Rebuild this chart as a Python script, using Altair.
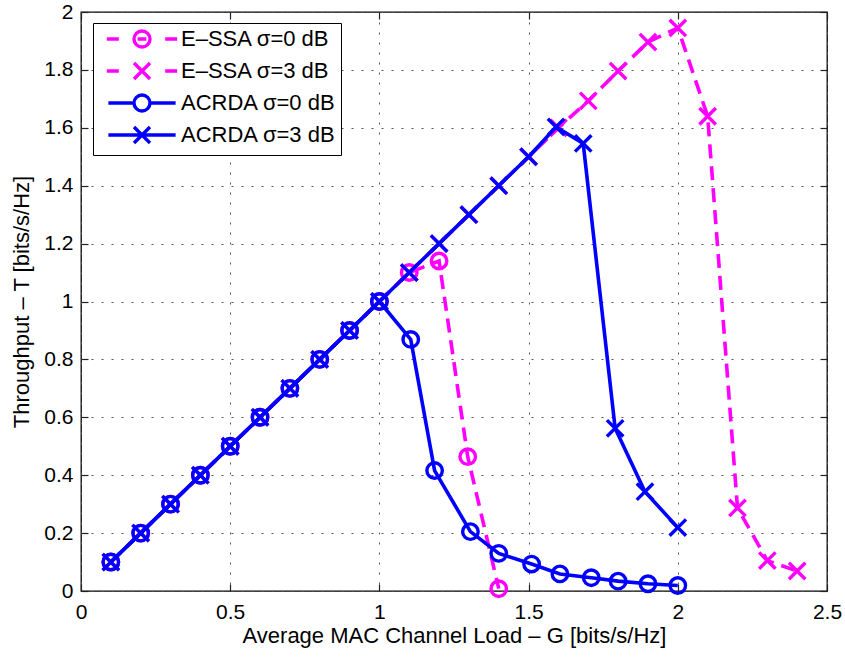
import altair as alt
import pandas as pd

# ---------------- data ----------------
essa0_G = [0.1, 0.2, 0.3, 0.4, 0.5, 0.6, 0.7, 0.8, 0.9, 1.0, 1.1, 1.2, 1.296, 1.4]
essa0_T = [0.1, 0.2, 0.3, 0.4, 0.5, 0.6, 0.7, 0.8, 0.9, 1.0, 1.1, 1.14, 0.464, 0.008]

essa3_G = [0.1, 0.2, 0.3, 0.4, 0.5, 0.6, 0.7, 0.8, 0.9, 1.0, 1.1, 1.2, 1.3, 1.4, 1.5,
           1.6, 1.7, 1.8, 1.9, 2.0, 2.1, 2.2, 2.3, 2.4]
essa3_T = [0.1, 0.2, 0.3, 0.4, 0.5, 0.6, 0.7, 0.8, 0.9, 1.0, 1.1, 1.2, 1.3, 1.4, 1.5,
           1.6, 1.693, 1.796, 1.896, 1.945, 1.64, 0.287, 0.105, 0.069]

acrda0_G = [0.1, 0.2, 0.3, 0.4, 0.5, 0.6, 0.7, 0.8, 0.9, 1.0, 1.105, 1.185, 1.305, 1.4,
            1.51, 1.605, 1.71, 1.8, 1.9, 2.0]
acrda0_T = [0.1, 0.2, 0.3, 0.4, 0.5, 0.6, 0.7, 0.8, 0.9, 1.0, 0.869, 0.416, 0.205, 0.13,
            0.093, 0.059, 0.046, 0.034, 0.025, 0.019]

acrda3_G = [0.1, 0.2, 0.3, 0.4, 0.5, 0.6, 0.7, 0.8, 0.9, 1.0, 1.1, 1.2, 1.3, 1.4, 1.5,
            1.592, 1.683, 1.79, 1.89, 2.0]
acrda3_T = [0.1, 0.2, 0.3, 0.4, 0.5, 0.6, 0.7, 0.8, 0.9, 1.0, 1.1, 1.2, 1.3, 1.4, 1.5,
            1.603, 1.546, 0.562, 0.343, 0.219]

series_names = ["E–SSA σ=0 dB", "E–SSA σ=3 dB", "ACRDA σ=0 dB", "ACRDA σ=3 dB"]
x_ticks = [0, 0.5, 1, 1.5, 2, 2.5]
y_ticks = [0, 0.2, 0.4, 0.6, 0.8, 1.0, 1.2, 1.4, 1.6, 1.8, 2.0]

# ---------------- styling ----------------
FONT = "Liberation Sans"
MAGENTA = "#ff00ff"
BLUE = "#0000ff"
CIRCLE = "circle"
XMARK = "M-1,-1L1,1M-1,1L1,-1"

leg_paths = [
    "M-4.4,0L-2.9,0M2.9,0L4.4,0M1,0A1,1,0,1,1,-1,0A1,1,0,1,1,1,0M-0.55,0L0.55,0",
    "M-4.4,0L-2.9,0M2.9,0L4.4,0M-1,-1L1,1M-1,1L1,-1",
    "M-4.2,0L-1,0M1,0L4.2,0M1,0A1,1,0,1,1,-1,0A1,1,0,1,1,1,0",
    "M-4.2,0L4.2,0M-1,-1L1,1M-1,1L1,-1",
]

x_scale = alt.Scale(domain=[0, 2.5], nice=False, zero=False)
y_scale = alt.Scale(domain=[0, 2], nice=False, zero=False)

TICK = 7
grid_kw = dict(grid=True, gridDash=[2, 8], gridColor="#555555", gridWidth=1)

x_axis_main = alt.Axis(orient="bottom", values=x_ticks, format="~g", offset=-TICK,
                       tickSize=TICK, ticks=True, domain=False, labelPadding=10,
                       labelFlush=False, labelOverlap=False,
                       title="Average MAC Channel Load – G [bits/s/Hz]", titlePadding=3,
                       **grid_kw)
y_axis_main = alt.Axis(orient="left", values=y_ticks, format="~g", offset=-TICK,
                       tickSize=TICK, ticks=True, domain=False, labelPadding=8,
                       labelFlush=False, labelOverlap=False,
                       title="Throughput – T [bits/s/Hz]", titlePadding=10,
                       **grid_kw)
x_axis_top = alt.Axis(orient="top", values=x_ticks, offset=-TICK, tickSize=TICK,
                      labels=False, domain=False, grid=False, title=None)
y_axis_right = alt.Axis(orient="right", values=y_ticks, offset=-TICK, tickSize=TICK,
                        labels=False, domain=False, grid=False, title=None)

series = [
    (series_names[0], essa0_G, essa0_T, MAGENTA, [14, 8], CIRCLE),
    (series_names[1], essa3_G, essa3_T, MAGENTA, [14, 8], XMARK),
    (series_names[2], acrda0_G, acrda0_T, BLUE, None, CIRCLE),
    (series_names[3], acrda3_G, acrda3_T, BLUE, None, XMARK),
]

layers = []
all_rows = []
for i, (name, G, T, color, dash, shape) in enumerate(series):
    df = pd.DataFrame({"G": G, "T": T, "series": name})
    all_rows.append(df)
    xa = x_axis_main if i == 0 else None
    ya = y_axis_main if i == 0 else None
    line_kw = dict(color=color, strokeWidth=3.6)
    if dash is not None:
        line_kw["strokeDash"] = dash
    line = alt.Chart(df).mark_line(**line_kw).encode(
        x=alt.X("G:Q", scale=x_scale, axis=xa),
        y=alt.Y("T:Q", scale=y_scale, axis=ya),
    )
    size = 240 if shape == CIRCLE else 270
    pts = alt.Chart(df).mark_point(shape=shape, size=size, filled=False, color=color,
                                   strokeWidth=3.4, opacity=1).encode(
        x=alt.X("G:Q", scale=x_scale, axis=None),
        y=alt.Y("T:Q", scale=y_scale, axis=None),
    )
    layers += [line, pts]

legend = alt.Legend(title=None, orient="none", legendX=12, legendY=11,
                    fillColor="white", strokeColor="black", padding=5,
                    symbolSize=256, symbolStrokeWidth=3.4, symbolOffset=33,
                    labelOffset=28, labelFont=FONT, labelFontSize=22,
                    labelColor="black", labelLimit=400, rowPadding=2,
                    symbolFillColor="transparent")

all_df = pd.concat(all_rows, ignore_index=True)
legend_layer = alt.Chart(all_df).transform_filter("false").mark_point(
    filled=False, strokeWidth=3.4, size=256, opacity=1
).encode(
    x=alt.X("G:Q", scale=x_scale, axis=x_axis_top),
    y=alt.Y("T:Q", scale=y_scale, axis=y_axis_right),
    color=alt.Color("series:N", scale=alt.Scale(domain=series_names,
                    range=[MAGENTA, MAGENTA, BLUE, BLUE]), legend=legend),
    shape=alt.Shape("series:N", scale=alt.Scale(domain=series_names, range=leg_paths),
                    legend=legend),
)
layers.append(legend_layer)

chart = alt.layer(*layers).resolve_axis(x="independent", y="independent").properties(
    width=746, height=579,
    autosize=alt.AutoSizeParams(type="none"),
    padding={"left": 81, "top": 12, "right": 18, "bottom": 66},
    background="white",
).configure_view(stroke="black", strokeWidth=1.3).configure_axis(
    labelFont=FONT, titleFont=FONT, labelFontSize=21, titleFontSize=22,
    labelColor="black", titleColor="black", titleFontWeight="normal",
    tickColor="#222222", tickWidth=1.2,
)

chart.save("out.html", embed_options={"renderer": "svg", "actions": False})
